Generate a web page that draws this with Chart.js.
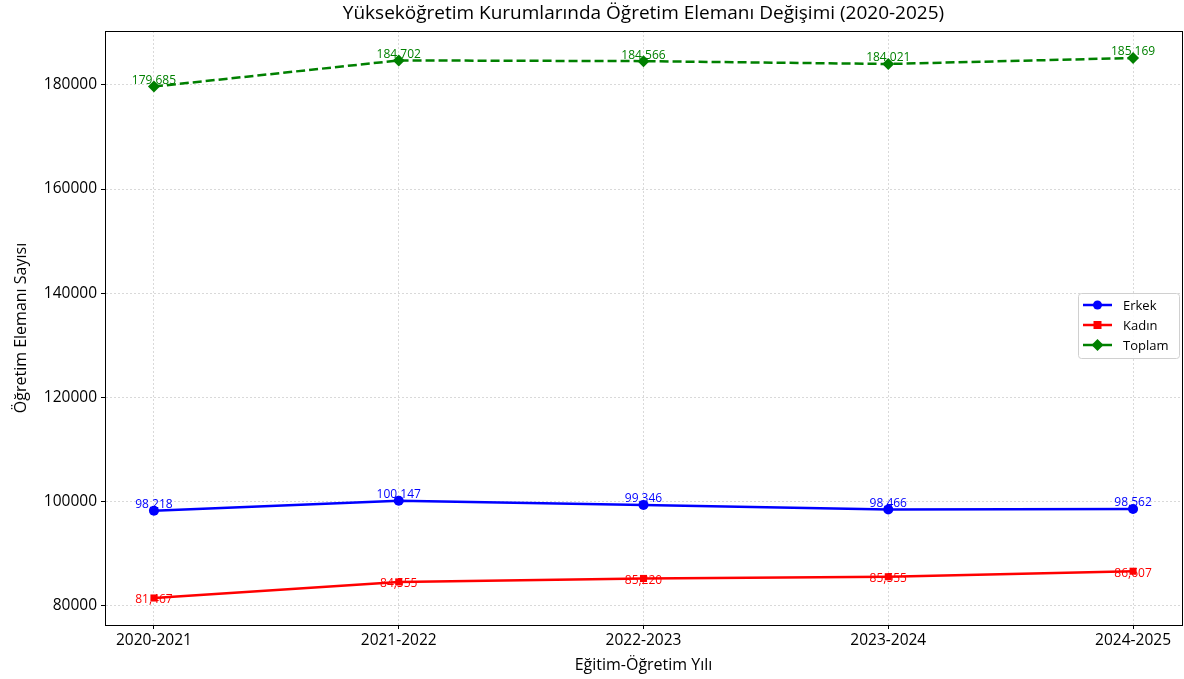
<!DOCTYPE html>
<html>
<head>
<meta charset="utf-8">
<script src="https://cdn.jsdelivr.net/npm/chart.js@4.4.1/dist/chart.umd.min.js"></script>
<style>
  html, body { margin: 0; padding: 0; background: #fff; }
  #wrap { width: 1184px; height: 679px; }
</style>
</head>
<body>
<div id="wrap"><canvas id="grafico" width="1184" height="679"></canvas></div>
<script>
const yillar = ["2020-2021", "2021-2022", "2022-2023", "2023-2024", "2024-2025"];
const erkek = [98218, 100147, 99346, 98466, 98562];
const kadin = [81467, 84555, 85220, 85555, 86607];
const toplam = [179685, 184702, 184566, 184021, 185169];
const yTikler = [80000, 100000, 120000, 140000, 160000, 180000];

const fontAdi = "'Open Sans', 'Noto Sans', sans-serif";

function noktalar(dizi) {
  return dizi.map((v, i) => ({ x: i, y: v }));
}

function binlik(v) {
  return v.toLocaleString("en-US");
}

// etiketler, baslik, legend ve cerceve
const ekstraCizim = {
  id: "ekstraCizim",
  afterDatasetsDraw(chart) {
    const ctx = chart.ctx;
    const alan = chart.chartArea;
    ctx.save();

    // cerceve
    ctx.strokeStyle = "#000";
    ctx.lineWidth = 1;
    ctx.strokeRect(alan.left + 0.5, alan.top + 0.5, alan.right - alan.left, alan.bottom - alan.top);

    // veri etiketleri
    ctx.font = "12px " + fontAdi;
    ctx.textAlign = "center";
    chart.data.datasets.forEach((ds, di) => {
      const meta = chart.getDatasetMeta(di);
      ctx.fillStyle = ds.borderColor;
      meta.data.forEach((pt, i) => {
        const deger = ds.data[i].y;
        if (ds.etiketAlt) {
          ctx.textBaseline = "top";
          ctx.fillText(binlik(deger), pt.x, pt.y - 4);
        } else {
          ctx.textBaseline = "bottom";
          ctx.fillText(binlik(deger), pt.x, pt.y);
        }
      });
    });

    // baslik
    ctx.fillStyle = "#000";
    ctx.font = "19px " + fontAdi;
    ctx.textAlign = "center";
    ctx.textBaseline = "middle";
    ctx.fillText("Yükseköğretim Kurumlarında Öğretim Elemanı Değişimi (2020-2025)", (alan.left + alan.right) / 2, 14);

    // legend
    const lx = 1078, ly = 293, lw = 101, lh = 65;
    ctx.fillStyle = "rgba(255,255,255,0.85)";
    ctx.strokeStyle = "#d0d0d0";
    ctx.lineWidth = 1;
    ctx.beginPath();
    ctx.roundRect(lx + 0.5, ly + 0.5, lw, lh, 3);
    ctx.fill();
    ctx.stroke();
    ctx.font = "13px " + fontAdi;
    ctx.textAlign = "left";
    ctx.textBaseline = "middle";
    chart.data.datasets.forEach((ds, di) => {
      const yy = ly + 12 + di * 20;
      ctx.strokeStyle = ds.borderColor;
      ctx.fillStyle = ds.borderColor;
      ctx.lineWidth = 2.5;
      ctx.setLineDash([]);
      ctx.beginPath();
      ctx.moveTo(lx + 5, yy);
      ctx.lineTo(lx + 34, yy);
      ctx.stroke();
      ctx.beginPath();
      if (ds.pointStyle === "circle") {
        ctx.arc(lx + 19.5, yy, 4.5, 0, Math.PI * 2);
      } else if (ds.pointStyle === "rect") {
        ctx.rect(lx + 15.5, yy - 4, 8, 8);
      } else {
        ctx.moveTo(lx + 19.5, yy - 6);
        ctx.lineTo(lx + 25.5, yy);
        ctx.lineTo(lx + 19.5, yy + 6);
        ctx.lineTo(lx + 13.5, yy);
        ctx.closePath();
      }
      ctx.fill();
      ctx.fillStyle = "#000";
      ctx.fillText(ds.label, lx + 45, yy + 1);
    });

    ctx.restore();
  }
};

new Chart(document.getElementById("grafico"), {
  type: "line",
  data: {
    datasets: [
      {
        label: "Erkek",
        data: noktalar(erkek),
        borderColor: "#0000ff",
        backgroundColor: "#0000ff",
        borderWidth: 2.5,
        pointStyle: "circle",
        pointRadius: 5,
        pointBorderWidth: 0,
        tension: 0
      },
      {
        label: "Kadın",
        data: noktalar(kadin),
        borderColor: "#ff0000",
        backgroundColor: "#ff0000",
        borderWidth: 2.5,
        pointStyle: "rect",
        pointRadius: 5,
        pointBorderWidth: 0,
        tension: 0,
        etiketAlt: true
      },
      {
        label: "Toplam",
        data: noktalar(toplam),
        borderColor: "#008000",
        backgroundColor: "#008000",
        borderWidth: 2.5,
        borderDash: [9, 4],
        pointStyle: "rectRot",
        pointRadius: 6,
        pointBorderWidth: 0,
        tension: 0
      }
    ]
  },
  options: {
    responsive: false,
    animation: false,
    layout: { autoPadding: false, padding: { top: 31, right: 2, left: 8, bottom: 0 } },
    plugins: {
      legend: { display: false },
      tooltip: { enabled: false }
    },
    scales: {
      x: {
        type: "linear",
        min: -0.2,
        max: 4.2,
        afterBuildTicks: s => { s.ticks = yillar.map((_, i) => ({ value: i })); },
        afterFit: s => { s.height = 54; s.paddingRight = 0; s.paddingLeft = 0; },
        ticks: {
          color: "#000",
          font: { family: fontAdi, size: 15.5 },
          padding: 2,
          callback: v => yillar[v]
        },
        grid: { color: "#d9d9d9", tickColor: "#000", tickLength: 4, tickBorderDash: [] },
        border: { color: "#000", dash: [2, 2] },
        title: { display: true, text: "Eğitim-Öğretim Yılı", color: "#000", font: { family: fontAdi, size: 16 }, padding: { top: 0 } }
      },
      y: {
        min: 76282,
        max: 190354,
        afterBuildTicks: s => { s.ticks = yTikler.map(v => ({ value: v })); },
        afterFit: s => { s.width = 97; },
        ticks: {
          color: "#000",
          font: { family: fontAdi, size: 15.5 },
          padding: 4,
          callback: v => String(v)
        },
        grid: { color: "#d9d9d9", tickColor: "#000", tickLength: 4, tickBorderDash: [] },
        border: { color: "#000", dash: [2, 2] },
        title: { display: true, text: "Öğretim Elemanı Sayısı", color: "#000", font: { family: fontAdi, size: 16 }, padding: { bottom: 4 } }
      }
    }
  },
  plugins: [ekstraCizim]
});
</script>
</body>
</html>
